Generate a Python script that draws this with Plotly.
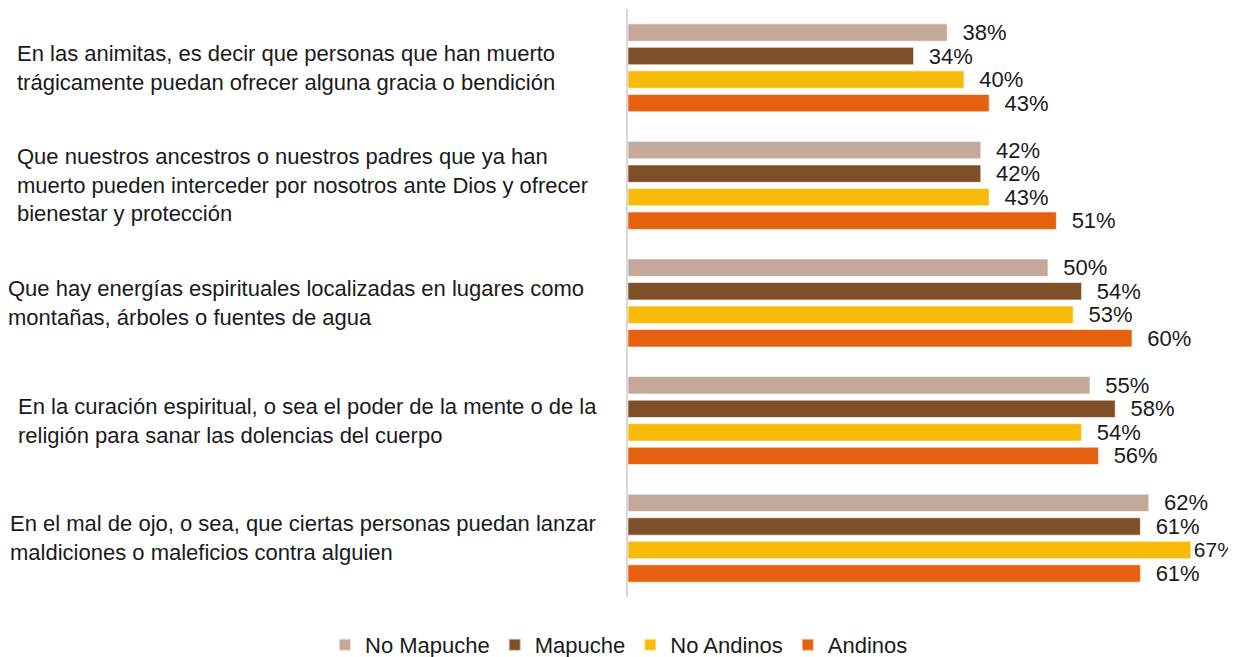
import plotly.graph_objects as go

categories = [
    "En las animitas, es decir que personas que han muerto<br>trágicamente puedan ofrecer alguna gracia o bendición",
    "Que nuestros ancestros o nuestros padres que ya han<br>muerto pueden interceder por nosotros ante Dios y ofrecer<br>bienestar y protección",
    "Que hay energías espirituales localizadas en lugares como<br>montañas, árboles o fuentes de agua",
    "En la curación espiritual, o sea el poder de la mente o de la<br>religión para sanar las dolencias del cuerpo",
    "En el mal de ojo, o sea, que ciertas personas puedan lanzar<br>maldiciones o maleficios contra alguien",
]
series_names = ["No Mapuche", "Mapuche", "No Andinos", "Andinos"]
no_mapuche = [38, 42, 50, 55, 62]
mapuche = [34, 42, 54, 58, 61]
no_andinos = [40, 43, 53, 54, 67]
andinos = [43, 51, 60, 56, 61]
series_values = [no_mapuche, mapuche, no_andinos, andinos]
colors = ["#C4A99B", "#7F4F27", "#F8BB0A", "#E5610F"]

FONT = "Liberation Sans, Arial, sans-serif"
OFF = 8  # browser body margin
W, H = 1236 - OFF, 657 - OFF
ML, MR, MT, MB = 628 - OFF, 0, 9 - OFF, 60
plot_w = W - ML - MR
plot_h = H - MT - MB
px_per_unit = 8.4
xmax = plot_w / px_per_unit

fig = go.Figure()
for name, vals, col in zip(series_names, series_values, colors):
    texts, sizes = [], []
    for v in vals:
        # a label that would overflow the right edge is placed tight to the bar
        if ML + v * px_per_unit + 60 > W:
            texts.append(f"{v}%")
            sizes.append(21)
        else:
            texts.append("\u00a0\u00a0" + f"{v}%")
            sizes.append(22)
    fig.add_trace(go.Bar(
        y=categories, x=vals, name=name, orientation="h",
        marker=dict(color=col, line=dict(color="rgba(255,255,255,0.6)", width=1)),
        text=texts, textposition="outside", cliponaxis=False,
        constraintext="none",
        textfont=dict(family=FONT, size=sizes, color="#1a1a1a"),
        hoverinfo="skip",
    ))

label_x_page = [17, 17, 8, 18, 10]
for cat, lx in zip(categories, label_x_page):
    fig.add_annotation(
        x=(lx - OFF - 2 - ML) / plot_w, xref="paper", xanchor="left",
        y=cat, yref="y", yanchor="middle",
        text=cat, align="left", showarrow=False,
        font=dict(family=FONT, size=22, color="#1a1a1a"),
    )

fig.update_layout(
    width=W, height=H,
    margin=dict(l=ML, r=MR, t=MT, b=MB, pad=0, autoexpand=False),
    paper_bgcolor="white", plot_bgcolor="white",
    barmode="group", bargap=0.2, bargroupgap=0.26,
    showlegend=True,
    legend=dict(
        orientation="h", x=(619 - OFF - ML) / plot_w, xref="paper", xanchor="center",
        y=-(645 - OFF - (H - MB)) / plot_h, yref="paper", yanchor="middle",
        font=dict(family=FONT, size=22, color="#1a1a1a"),
        traceorder="normal", itemsizing="constant",
    ),
    xaxis=dict(range=[0, xmax], visible=False, fixedrange=True),
    yaxis=dict(autorange="reversed", showticklabels=False, ticks="",
               showline=True, linecolor="#D9D9D9", linewidth=2,
               showgrid=False, zeroline=False, fixedrange=True),
)

fig.write_html("out.html")
